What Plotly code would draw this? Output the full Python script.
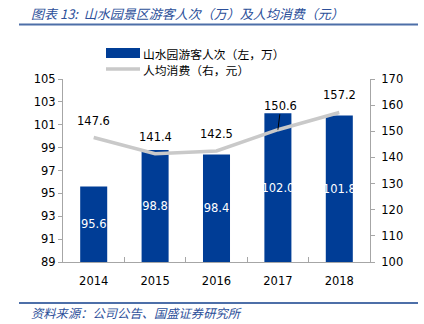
import plotly.graph_objects as go

years = ["2014", "2015", "2016", "2017", "2018"]
visitors = [95.6, 98.8, 98.4, 102.0, 101.8]      # 万 (left axis)
spend = [147.6, 141.4, 142.5, 150.6, 157.2]       # 元 (right axis)
left_ticks = [89, 91, 93, 95, 97, 99, 101, 103, 105]
right_ticks = [100, 110, 120, 130, 140, 150, 160, 170]
LEFT_MIN, LEFT_MAX = 89, 105
RIGHT_MIN, RIGHT_MAX = 100, 170

title_text = "图表 13:  山水园景区游客人次（万）及人均消费（元）"
source_text = "资料来源：公司公告、国盛证券研究所"
bar_name = "山水园游客人次（左，万）"
line_name = "人均消费（右，元）"

BLUE = "#003d96"
GRAY = "#c9c9c9"
TXTBLUE = "#2c4f9a"
NUMFONT = "DejaVu Sans"
CJK = "Noto Sans CJK SC"

W, H = 424, 324
ML, MR, MT, MB = 63, 54, 79, 62

fig = go.Figure()
# bars drawn from the axis floor so the inside labels sit in the visible part
fig.add_trace(go.Bar(
    x=years, y=[v - LEFT_MIN for v in visitors], base=LEFT_MIN,
    name=bar_name, marker_color=BLUE, marker_line_width=0,
    text=[f"{v:.1f}" for v in visitors], textposition="inside", textangle=0,
    insidetextanchor="middle", constraintext="none",
    textfont=dict(color="white", size=11.5, family=NUMFONT),
    yaxis="y", showlegend=False,
))
fig.add_trace(go.Scatter(
    x=years, y=spend, name=line_name, mode="lines",
    line=dict(color=GRAY, width=3.5), yaxis="y2", showlegend=False,
))

# line value labels (x given as category index)
for i, (yr, v) in enumerate(zip(years, spend)):
    if yr == "2017":
        fig.add_annotation(x=i, y=v, xref="x", yref="y2", text=f"{v:.1f}", showarrow=True,
                           arrowhead=0, arrowwidth=1, arrowcolor="black",
                           ax=3, ay=-24, font=dict(size=11.5, family=NUMFONT, color="black"))
    else:
        fig.add_annotation(x=i, y=v, xref="x", yref="y2", text=f"{v:.1f}", showarrow=False,
                           yshift=17, font=dict(size=11.5, family=NUMFONT, color="black"))

def pyp(p):
    return (H - MB - p) / (H - MT - MB)
def pxp(p):
    return (p - ML) / (W - ML - MR)

# header / footer rules
for yy in (24.5, 303):
    fig.add_shape(type="line", xref="paper", yref="paper",
                  x0=pxp(19), x1=pxp(418), y0=pyp(yy), y1=pyp(yy),
                  line=dict(color="#4d6fa8", width=2))

fig.add_annotation(xref="paper", yref="paper", x=pxp(29), y=pyp(13), xanchor="left",
                   yanchor="middle", text=title_text, showarrow=False,
                   font=dict(size=13, family=CJK, color=TXTBLUE, style="italic"))
fig.add_annotation(xref="paper", yref="paper", x=pxp(29), y=pyp(313), xanchor="left",
                   yanchor="middle", text=source_text, showarrow=False,
                   font=dict(size=12.3, family=CJK, color=TXTBLUE, style="italic"))

# legend (drawn)
fig.add_shape(type="rect", xref="paper", yref="paper",
              x0=pxp(106), x1=pxp(140), y0=pyp(58), y1=pyp(48),
              fillcolor=BLUE, line_width=0)
fig.add_annotation(xref="paper", yref="paper", x=pxp(142), y=pyp(53), xanchor="left",
                   yanchor="middle", text=bar_name, showarrow=False, borderpad=0,
                   font=dict(size=11.8, family=CJK, color="black"))
fig.add_shape(type="line", xref="paper", yref="paper",
              x0=pxp(106), x1=pxp(140), y0=pyp(69), y1=pyp(69),
              line=dict(color=GRAY, width=3.5))
fig.add_annotation(xref="paper", yref="paper", x=pxp(142), y=pyp(69.5), xanchor="left",
                   yanchor="middle", text=line_name, showarrow=False, borderpad=0,
                   font=dict(size=11.8, family=CJK, color="black"))

axis_line = "#a6a6a6"
fig.update_layout(
    width=W, height=H, margin=dict(l=ML, r=MR, t=MT, b=MB, autoexpand=False),
    paper_bgcolor="white", plot_bgcolor="white", bargap=0.56,
    xaxis=dict(type="category", range=[-0.5, len(years) - 0.5], autorange=False,
               showline=True, linecolor=axis_line, linewidth=1,
               ticks="inside", tickson="boundaries", ticklen=5, tickcolor=axis_line,
               showgrid=False, tickangle=0, ticklabelstandoff=8,
               tickfont=dict(size=11.5, family=NUMFONT, color="black")),
    yaxis=dict(range=[LEFT_MIN, LEFT_MAX], tickvals=left_ticks, showline=True,
               linecolor=axis_line, ticks="outside", ticklen=4, tickcolor=axis_line,
               showgrid=False, zeroline=False,
               tickfont=dict(size=11.5, family=NUMFONT, color="black")),
    yaxis2=dict(range=[RIGHT_MIN, RIGHT_MAX], tickvals=right_ticks, overlaying="y",
                side="right", showline=True, linecolor=axis_line, ticks="outside",
                ticklen=4, tickcolor=axis_line, showgrid=False, zeroline=False,
                ticklabelstandoff=4,
                tickfont=dict(size=11.5, family=NUMFONT, color="black")),
    uniformtext=dict(minsize=11.5, mode="show"),
    showlegend=False,
)

fig.write_html("out.html")
